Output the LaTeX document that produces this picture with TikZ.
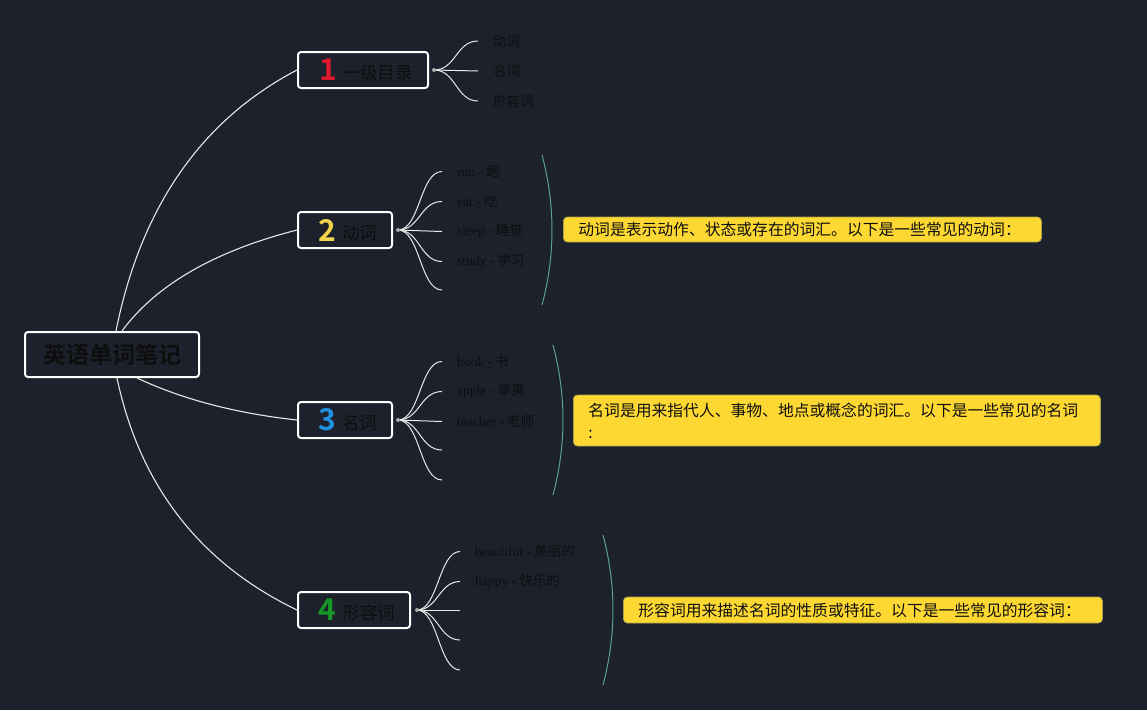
\documentclass[tikz,border=0pt]{standalone}
\usepackage{fontspec}
\setmainfont{Liberation Serif}
\newfontfamily\cjk{Noto Sans CJK SC}[BoldFont={Noto Sans CJK SC Bold}]
\usetikzlibrary{calc}
\definecolor{bg}{RGB}{28,33,43}
\definecolor{txt}{RGB}{14,14,14}
\definecolor{linecol}{RGB}{232,232,232}
\definecolor{dotcol}{RGB}{170,170,170}
\definecolor{bracecol}{RGB}{92,160,150}
\definecolor{noteyellow}{RGB}{253,216,51}
\definecolor{noteedge}{RGB}{170,160,70}
\definecolor{numred}{RGB}{222,24,45}
\definecolor{numyellow}{RGB}{242,212,76}
\definecolor{numblue}{RGB}{30,144,222}
\definecolor{numgreen}{RGB}{22,152,40}
\newcommand\numd[2]{{\color{#1}\cjk\bfseries\fontsize{30}{30}\selectfont #2}}
\newcommand\boxlabel[1]{\raisebox{1.5pt}{#1}}
\tikzset{
  mainbox/.style={draw=white, line width=2pt, rounded corners=3pt, fill=bg,
    minimum height=36pt, inner sep=0pt, text=txt,
    font=\cjk\fontsize{17.5}{20}\selectfont},
  rootbox/.style={mainbox, minimum width=174pt, minimum height=45pt,
    font=\cjk\bfseries\fontsize{23}{25}\selectfont},
  leaf/.style={anchor=west, inner xsep=15pt, inner ysep=0pt, text=txt,
    font=\fontsize{13.5}{16}\selectfont},
  note/.style={anchor=west, fill=noteyellow, draw=noteedge, line width=0.8pt,
    rounded corners=4pt, inner xsep=15pt, inner ysep=2pt, align=left, text=txt,
    font=\cjk\fontsize{15.8}{22}\selectfont},
  link/.style={draw=linecol, line width=1.1pt},
  sub/.style={draw=linecol, line width=1pt},
  brace/.style={draw=bracecol, line width=1pt},
  jdot/.style={fill=dotcol, draw=none},
}
\begin{document}
\begin{tikzpicture}[x=1pt,y=-1pt]
\fill[bg] (0,0) rectangle (1147,710);
\useasboundingbox (0,0) rectangle (1147,710);

% main nodes
\node[rootbox] (root) at (112,354.5) {英语单词笔记};
\node[mainbox, minimum width=130pt] (n1) at (363,70) {\hspace{6pt}\numd{numred}{1}\hspace{6pt}\boxlabel{一级目录}};
\node[mainbox, minimum width=94pt] (n2) at (345,230) {\hspace{6pt}\numd{numyellow}{2}\hspace{6pt}\boxlabel{动词}};
\node[mainbox, minimum width=94pt] (n3) at (345,420) {\hspace{6pt}\numd{numblue}{3}\hspace{6pt}\boxlabel{名词}};
\node[mainbox, minimum width=112pt] (n4) at (354,610) {\hspace{6pt}\numd{numgreen}{4}\hspace{6pt}\boxlabel{形容词}};

% root connectors
\draw[link] ($(root.north)+(4,0)$) .. controls (140.7,207.3) and (201.3,120) .. (n1.west);
\draw[link] ($(root.north)+(10,0)$) .. controls (155.7,285.1) and (214.4,251.1) .. (n2.west);
\draw[link] ($(root.south)+(25,0)$) .. controls (181.7,399) and (235.3,413.3) .. (n3.west);
\draw[link] ($(root.south)+(5,0)$) .. controls (139.7,485.7) and (200,563.3) .. (n4.west);

% junction points
\coordinate (d1) at ($(n1.east)+(5,0)$);
\coordinate (d2) at ($(n2.east)+(5,0)$);
\coordinate (d3) at ($(n3.east)+(5,0)$);
\coordinate (d4) at ($(n4.east)+(6,0)$);

% leaves of 1
\node[leaf] (l11) at (478,41) {\cjk 动词};
\node[leaf] (l12) at (478,71) {\cjk 名词};
\node[leaf] (l13) at (478,101) {\cjk 形容词};
\foreach \t in {l11,l12,l13}
  \draw[sub] (d1) .. controls +(22,0) and +(-22,0) .. (\t.west);

% leaves of 2
\node[leaf] (l21) at (442,171.5) {run - {\cjk 跑}};
\node[leaf] (l22) at (442,201.5) {eat - {\cjk 吃}};
\node[leaf] (l23) at (442,231.5) {sleep - {\cjk 睡觉}};
\node[leaf] (l24) at (442,261.5) {study - {\cjk 学习}};
\coordinate (l25) at (442,290);
\foreach \t in {l21,l22,l23,l24}
  \draw[sub] (d2) .. controls +(22,0) and +(-22,0) .. (\t.west);
\draw[sub] (d2) .. controls +(22,0) and +(-22,0) .. (l25);

% leaves of 3
\node[leaf] (l31) at (442,361.5) {book - {\cjk 书}};
\node[leaf] (l32) at (442,391.5) {apple - {\cjk 苹果}};
\node[leaf] (l33) at (442,421.5) {teacher - {\cjk 老师}};
\coordinate (l34) at (442,450);
\coordinate (l35) at (442,480);
\foreach \t in {l31,l32,l33}
  \draw[sub] (d3) .. controls +(22,0) and +(-22,0) .. (\t.west);
\foreach \t in {l34,l35}
  \draw[sub] (d3) .. controls +(22,0) and +(-22,0) .. (\t);

% leaves of 4
\node[leaf] (l41) at (460,551.5) {beautiful - {\cjk 美丽的}};
\node[leaf] (l42) at (460,581.5) {happy - {\cjk 快乐的}};
\coordinate (l43) at (460,610);
\coordinate (l44) at (460,640);
\coordinate (l45) at (460,670);
\foreach \t in {l41,l42}
  \draw[sub] (d4) .. controls +(21,0) and +(-21,0) .. (\t.west);
\foreach \t in {l43,l44,l45}
  \draw[sub] (d4) .. controls +(21,0) and +(-21,0) .. (\t);

% junction dots
\foreach \d in {d1,d2,d3,d4}
  \fill[jdot] (\d) circle (2pt);

% braces
\draw[brace] (542,155) .. controls (555.3,205) and (555.3,255) .. (542,305);
\draw[brace] (553,345) .. controls (566.3,395) and (566.3,445) .. (553,495);
\draw[brace] (603,535) .. controls (616.3,585) and (616.3,635) .. (603,685);

% notes
\node[note, text width=448pt, minimum height=25pt] (t2) at (563,229.5)
  {动词是表示动作、状态或存在的词汇。以下是一些常见的动词：};
\node[note, text width=497pt, minimum height=51pt] (t3) at (573,420.5)
  {名词是用来指代人、事物、地点或概念的词汇。以下是一些常见的名词\\:};
\node[note, text width=449pt, minimum height=26pt] (t4) at (623,610)
  {形容词用来描述名词的性质或特征。以下是一些常见的形容词：};
\end{tikzpicture}
\end{document}
